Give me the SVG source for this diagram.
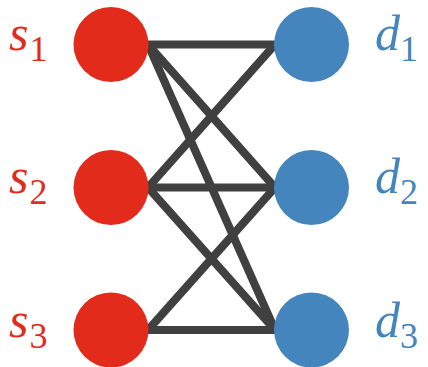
<svg xmlns="http://www.w3.org/2000/svg" width="428" height="367" viewBox="0 0 428 367">
  <style>
    .edge { stroke: #404040; stroke-width: 8; stroke-linecap: butt; fill: none; }
    .src circle { fill: #E32B1C; }
    .dst circle { fill: #4585BE; }
    .lbl { font-family: "Liberation Serif", "DejaVu Serif", serif; font-style: italic; font-size: 50px; }
    .sub { font-style: normal; font-size: 36px; }
    .src text { fill: #E32B1C; }
    .dst text { fill: #4585BE; }
  </style>
  <rect width="428" height="367" fill="#FFFFFF"/>
  <g id="connectors">
    <line class="edge" x1="148" y1="44.5" x2="275" y2="44.5"/>
    <line class="edge" x1="148" y1="44.5" x2="275" y2="187.5"/>
    <line class="edge" x1="148" y1="44.5" x2="275" y2="330"/>
    <line class="edge" x1="148" y1="187.5" x2="275" y2="44.5"/>
    <line class="edge" x1="148" y1="187.5" x2="275" y2="187.5"/>
    <line class="edge" x1="148" y1="187.5" x2="275" y2="330"/>
    <line class="edge" x1="148" y1="330" x2="275" y2="187.5"/>
    <line class="edge" x1="148" y1="330" x2="275" y2="330"/>
  </g>
  <g id="s1" class="src">
    <circle cx="111" cy="44.5" r="37.5"/>
    <text class="lbl" x="9" y="50">s<tspan class="sub" dx="1" dy="11">1</tspan></text>
  </g>
  <g id="s2" class="src">
    <circle cx="111" cy="187.5" r="37.5"/>
    <text class="lbl" x="9" y="193">s<tspan class="sub" dx="1" dy="11">2</tspan></text>
  </g>
  <g id="s3" class="src">
    <circle cx="111" cy="330" r="37.5"/>
    <text class="lbl" x="9" y="337">s<tspan class="sub" dx="1" dy="11">3</tspan></text>
  </g>
  <g id="d1" class="dst">
    <circle cx="311.5" cy="44.5" r="37.5"/>
    <text class="lbl" x="375" y="50">d<tspan class="sub" dy="11">1</tspan></text>
  </g>
  <g id="d2" class="dst">
    <circle cx="311.5" cy="187.5" r="37.5"/>
    <text class="lbl" x="375" y="193">d<tspan class="sub" dy="11">2</tspan></text>
  </g>
  <g id="d3" class="dst">
    <circle cx="311.5" cy="330" r="37.5"/>
    <text class="lbl" x="375" y="337">d<tspan class="sub" dy="11">3</tspan></text>
  </g>
</svg>
